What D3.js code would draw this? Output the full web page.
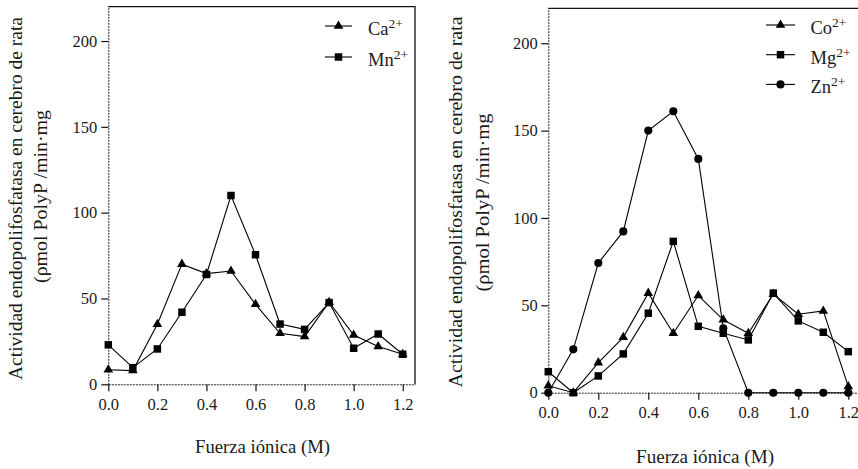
<!DOCTYPE html>
<html>
<head>
<meta charset="utf-8">
<script src="https://cdn.jsdelivr.net/npm/d3@7"></script>
<style>
  html, body { margin: 0; padding: 0; background: #fff; }
  svg { display: block; }
</style>
</head>
<body>
<svg id="chart" width="858" height="469"></svg>
<script>
// ---- data ----
const ionicStrength = [0.0, 0.1, 0.2, 0.3, 0.4, 0.5, 0.6, 0.7, 0.8, 0.9, 1.0, 1.1, 1.2];
const xTicks = [0.0, 0.2, 0.4, 0.6, 0.8, 1.0, 1.2];
const yTicks = [0, 50, 100, 150, 200];

const ca = [8.5, 8, 35, 70, 64.5, 66, 46.6, 29.7, 27.8, 47.8, 28.7, 22, 17.5];
const mn = [23, 9.7, 20.6, 42, 64, 110, 75.5, 35.1, 32, 47.6, 21, 29.3, 17.5];

const co = [4, 0, 17.2, 31.7, 57, 34, 55.6, 41.7, 34, 56.4, 44.9, 46.8, 3.5];
const mg = [12, 0, 9.6, 22.2, 45.5, 86.6, 38, 34, 30.2, 57, 41.1, 34.6, 23.5];
const zn = [0, 24.8, 74.2, 92.3, 150, 161.1, 133.8, 36.9, 0, 0, 0, 0, 0];

const yTitle1 = "Actividad endopolifosfatasa en cerebro de rata";
const yTitle2 = "(ρmol PolyP /min·mg";
const xTitle = "Fuerza iónica (M)";

const leftSeries = [
  { ion: "Ca", values: ca, shape: "triangle" },
  { ion: "Mn", values: mn, shape: "square" }
];
const rightSeries = [
  { ion: "Co", values: co, shape: "triangle" },
  { ion: "Mg", values: mg, shape: "square" },
  { ion: "Zn", values: zn, shape: "circle" }
];

const FONT = '"Liberation Serif", "DejaVu Serif", serif';
const svg = d3.select("#chart");

const symbolOf = {
  triangle: d3.symbol().type(d3.symbolTriangle).size(40),
  square: d3.symbol().type(d3.symbolSquare).size(56),
  circle: d3.symbol().type(d3.symbolCircle).size(52)
};

function txt(sel, size) {
  return sel.style("font-family", FONT).style("font-size", size + "px").style("fill", "#1a1a1a");
}

function drawPanel(cfg, series) {
  const g = svg.append("g");
  const x = d3.scaleLinear().domain([0, 1.25]).range([cfg.x0, cfg.x1]);
  const y = d3.scaleLinear().domain([0, 220]).range([cfg.y0, cfg.y1]);

  // box top & right (solid)
  g.append("path")
    .attr("d", `M${cfg.x0},${y(220)}H${x(1.25)}V${y(0)}`)
    .attr("fill", "none").attr("stroke", "#111").attr("stroke-width", 1.3);

  // x axis
  const xa = g.append("g").attr("transform", `translate(0,${y(0)})`)
    .call(d3.axisBottom(x).tickValues(xTicks).tickFormat(d3.format(".1f"))
      .tickSize(7).tickSizeOuter(0).tickPadding(7));
  // y axis
  const ya = g.append("g").attr("transform", `translate(${x(0)},0)`)
    .call(d3.axisLeft(y).tickValues(yTicks).tickFormat(d3.format("d"))
      .tickSize(7).tickSizeOuter(0).tickPadding(cfg.yPad));
  [xa, ya].forEach(a => {
    a.select(".domain").attr("stroke", "#222").attr("stroke-width", 1)
      .attr("stroke-dasharray", "2,1");
    a.selectAll(".tick line").attr("stroke", "#111").attr("stroke-width", 1.2);
    txt(a.selectAll(".tick text"), cfg.fs);
  });

  // lines
  const line = d3.line().x((d, i) => x(ionicStrength[i])).y(d => y(d));
  series.forEach(s => {
    g.append("path").datum(s.values).attr("d", line)
      .attr("fill", "none").attr("stroke", "#000").attr("stroke-width", 1.1);
  });
  series.forEach(s => {
    g.selectAll(null).data(s.values).enter().append("path")
      .attr("d", symbolOf[s.shape])
      .attr("transform", (d, i) => `translate(${x(ionicStrength[i])},${y(d)})`)
      .attr("fill", "#000");
  });

  // legend
  series.forEach((s, i) => {
    const ly = cfg.legY + i * cfg.legStep;
    g.append("line").attr("x1", cfg.legX0).attr("x2", cfg.legX1)
      .attr("y1", ly).attr("y2", ly).attr("stroke", "#000").attr("stroke-width", 1.1);
    g.append("path").attr("d", symbolOf[s.shape])
      .attr("transform", `translate(${(cfg.legX0 + cfg.legX1) / 2},${ly})`).attr("fill", "#000");
    const t = txt(g.append("text").attr("x", cfg.legTx).attr("y", ly + 9), cfg.fs + 2);
    t.append("tspan").text(s.ion);
    t.append("tspan").attr("dy", -7).style("font-size", (cfg.fs - 3) + "px").text("2+");
  });

  // axis titles
  txt(g.append("text").attr("x", cfg.xtX).attr("y", cfg.xtY)
    .attr("text-anchor", "middle")
    .attr("textLength", cfg.xtLen).attr("lengthAdjust", "spacingAndGlyphs")
    .text(xTitle), cfg.fs + 2);
  txt(g.append("text").attr("transform", `translate(${cfg.yt1X},${cfg.ytCY}) rotate(-90)`)
    .attr("text-anchor", "middle")
    .attr("textLength", cfg.yt1Len).attr("lengthAdjust", "spacingAndGlyphs")
    .text(yTitle1), cfg.fs + 2);
  txt(g.append("text").attr("transform", `translate(${cfg.yt2X},${cfg.ytCY2}) rotate(-90)`)
    .attr("text-anchor", "middle")
    .attr("textLength", cfg.yt2Len).attr("lengthAdjust", "spacingAndGlyphs")
    .text(yTitle2), cfg.fs + 2);
}

drawPanel({
  x0: 108.3, x1: 415, y0: 384.3, y1: 6.7, fs: 16.5, yPad: 4,
  legY: 26, legStep: 31, legX0: 325, legX1: 352, legTx: 368,
  xtX: 262.5, xtY: 453, xtLen: 135,
  yt1X: 22, yt1Len: 363, ytCY: 198.5,
  yt2X: 47, yt2Len: 173, ytCY2: 196.5
}, leftSeries);

drawPanel({
  x0: 548.3, x1: 860.8, y0: 392.7, y1: 8.3, fs: 16.5, yPad: 3.5,
  legY: 25, legStep: 29.7, legX0: 766, legX1: 795, legTx: 810.5,
  xtX: 705, xtY: 463, xtLen: 138,
  yt1X: 462, yt1Len: 371, ytCY: 202,
  yt2X: 489, yt2Len: 178, ytCY2: 202.5
}, rightSeries);
</script>
</body>
</html>
